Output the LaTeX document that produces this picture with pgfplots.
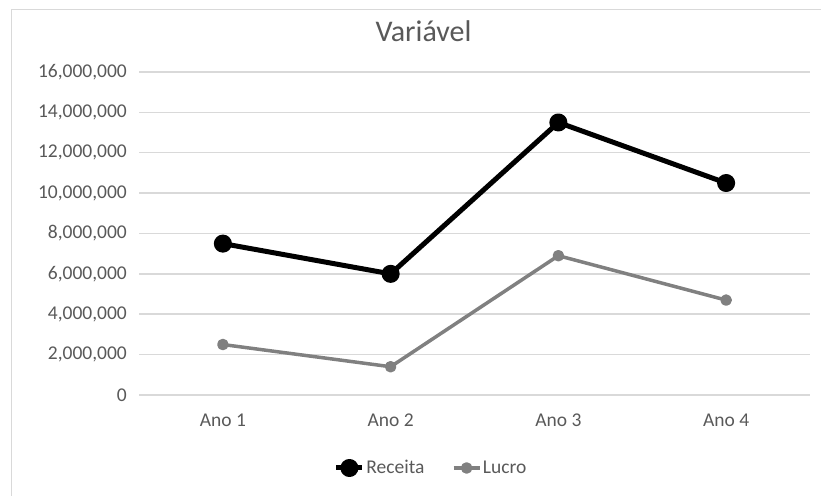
\documentclass[border=0pt]{standalone}
\usepackage{fontspec}
\setmainfont{Carlito}
\usepackage{pgfplots}
\pgfplotsset{compat=1.18}
\definecolor{txt}{HTML}{595959}
\definecolor{gridc}{HTML}{D9D9D9}
\definecolor{lucro}{HTML}{808080}
\begin{document}
\begin{tikzpicture}[x=1bp,y=1bp]
\path[use as bounding box] (0,0) rectangle (821,496);
\draw[gridc, line width=1bp] (11,0) -- (11,486) -- (821,486);
\node[text=txt, font=\fontsize{30bp}{36bp}\selectfont, anchor=base, inner sep=0pt] at (423.5,454) {Variável};
\begin{axis}[
  at={(139bp,101bp)}, anchor=south west,
  width=671bp, height=323bp, scale only axis,
  xmin=-0.5, xmax=3.5, ymin=0, ymax=16000000,
  xtick={0,1,2,3}, xticklabels={Ano 1,Ano 2,Ano 3,Ano 4},
  ytick={0,2000000,4000000,6000000,8000000,10000000,12000000,14000000,16000000},
  ymajorgrids, grid style={gridc, line width=1.5bp},
  axis line style={draw=none}, major tick length=0pt, tick style={draw=none},
  scaled y ticks=false,
  yticklabel={\pgfmathprintnumber[fixed,precision=0,1000 sep={,},assume math mode=true]{\tick}},
  ticklabel style={font=\fontsize{19.5bp}{23bp}\selectfont, text=txt, inner sep=0pt},
  yticklabel style={anchor=east, xshift=-12bp},
  xticklabel style={anchor=base, yshift=-32bp},
  clip=false,
  legend columns=-1,
  legend style={at={(0.435,-0.226)}, anchor=center, draw=none, fill=none,
    font=\fontsize{19.5bp}{23bp}\selectfont, text=txt,
    nodes={inner sep=1.5bp},
    /tikz/every even column/.append style={column sep=26bp}},
  legend image code/.code={\draw[mark repeat=2,mark phase=2] plot coordinates {(0bp,0bp)(13bp,0bp)(26bp,0bp)};},
]
\addplot[black, line width=5bp, line join=round, mark=*, mark size=6.5bp, mark options={solid}] coordinates {(0,7500000)(1,6000000)(2,13500000)(3,10500000)};
\addlegendentry{Receita}
\addplot[lucro, line width=3.5bp, line join=round, mark=*, mark size=4bp, mark options={solid}] coordinates {(0,2500000)(1,1400000)(2,6900000)(3,4700000)};
\addlegendentry{Lucro}
\end{axis}
\end{tikzpicture}
\end{document}
